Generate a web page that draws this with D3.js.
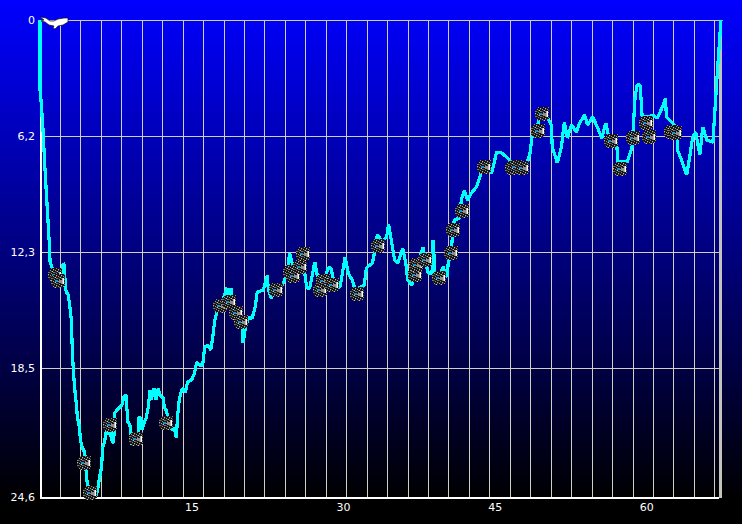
<!DOCTYPE html>
<html><head><meta charset="utf-8">
<script src="https://cdn.jsdelivr.net/npm/d3@7/dist/d3.min.js"></script>
<style>html,body{margin:0;padding:0;background:#000;overflow:hidden}svg{display:block}
text{font-family:"DejaVu Sans",sans-serif;font-size:11px;fill:#fff}</style></head><body>
<script>
const yTicks=[0,6.2,12.3,18.5,24.6];
const xTicks=[15,30,45,60];
const gridIndex=d3.range(1,34);
const km=[0,0,.1,.3,.5,.7,.9,1,1.2,1.5,1.8,2,2.2,2.3,2.4,2.5,2.6,2.8,3,3.1,3.2,3.3,3.4,3.5,3.6,3.7,3.9,4,4.2,4.4,4.5,4.6,4.7,4.9,5.2,5.5,5.7,5.9,6.1,6.2,6.4,6.5,6.7,6.8,6.9,7,7.2,7.3,7.4,7.6,7.9,8.1,8.3,8.5,8.7,8.9,9,9.1,9.4,9.7,9.8,10,10.1,10.3,10.5,10.7,10.9,11,11.3,11.5,11.7,11.9,12.2,12.3,12.5,12.7,13.1,13.3,13.5,13.6,13.8,14.1,14.4,14.6,15,15.3,15.5,15.8,16.1,16.3,16.6,16.9,17.1,17.3,17.5,17.8,18.1,18.5,18.7,18.9,19.1,19.4,19.8,20,20.1,20.3,20.6,21,21.3,21.5,22.1,22.5,22.6,22.9,23.2,23.6,23.9,24.2,24.5,24.7,25,25.3,25.7,25.9,26.2,26.4,26.7,27.2,27.4,27.5,27.9,28.2,28.5,28.8,29.2,29.7,30.2,30.5,30.9,31.2,31.7,32.1,32.3,32.9,33.1,33.4,33.8,34.3,34.5,34.8,35.1,35.4,35.9,36.2,36.4,36.8,37.1,37.4,37.9,38.4,38.8,38.9,39.1,39.5,39.9,40.3,40.4,40.7,40.8,40.9,41,41.5,41.7,42,42.3,42.7,43.2,43.5,43.9,44.3,44.7,45.2,45.7,46.3,46.7,47.3,47.8,48.2,48.3,48.5,48.7,49,49.3,49.5,49.9,50.2,50.6,50.7,51.2,51.6,51.9,52.2,52.6,53.1,53.4,53.9,54.2,54.7,55.2,55.6,56,56.4,57.1,57.2,58.1,58.6,58.9,59.1,59.4,59.6,60.3,60.6,61.1,61.6,61.9,62,62.5,63,63.1,63.5,64,64.3,64.6,64.9,65.3,65.6,66,66.6,66.8,67.1,67.4];
const position=[0,3.74,4.28,5.88,8,9.83,11.67,12.83,13.15,13.37,13.53,13.58,13.26,12.89,13,14.07,14.44,14.6,15.4,15.93,17.54,18.6,19.3,19.77,20.24,20.82,21.29,21.91,22.28,22.47,22.85,23.66,23.99,24.18,24.27,24.6,24.27,23.66,23.18,22.24,22,21.58,21.43,21.67,21.2,21.67,22.05,21.91,20.63,20.49,20.35,20.25,19.87,19.77,21.05,21.2,21.67,22.14,21.76,21.67,20.82,20.87,21.43,21.1,20.87,20.39,19.54,20.01,19.45,20.01,19.45,19.82,19.92,20.39,20.49,20.96,21.43,21.34,21.81,20.87,19.92,19.45,19.64,19.16,19.07,18.74,18.18,18.34,18.34,17.38,17.27,17.54,16.84,15.93,15.56,15.19,14.87,14.22,14.87,14.22,15.03,15.56,15.82,16.04,17.16,16.47,15.83,15.83,15.24,14.44,14.33,13.53,14.33,14.76,14.44,14.33,14.17,13.8,13.26,12.35,12.99,13.26,12.99,12.46,13.42,14.22,14.22,12.83,13.42,13.8,14.07,13.8,13.15,13.15,14.22,14.17,12.57,13.42,13.8,14.33,14.17,14.07,13.15,12.89,12.35,11.37,11.74,11.53,10.84,11.79,12.73,12.89,12.09,12.89,13.8,14.07,13.53,13,12.04,13.42,13.42,11.67,13.42,13.69,13.1,13.64,12.89,12.35,11.57,11.15,10.62,10.52,9.57,9.04,9.57,9.2,8.88,8.41,7.83,7.73,8.15,7.04,7.1,7.36,7.62,7.62,7.88,7.83,7.46,7.09,6.25,5.77,5.51,4.7,4.92,5.18,5.61,6.78,7.62,6.78,5.45,6.31,5.61,5.99,5.51,5.08,5.61,5.18,5.77,6.31,5.51,6.52,6.78,7.57,7.57,6.78,4.12,3.47,3.47,5.18,5.18,5.08,5.24,4.65,4.17,5.18,5.45,5.72,6.94,7.46,8.25,7.31,6.25,5.99,7.2,5.72,6.41,6.52,4.81,2.3,0];
const markerKm=[1.5,1.8,4.4,4.9,6.9,9.5,12.5,17.8,18.7,19.4,19.9,23.4,24.7,25,25.7,26,27.7,28,28.9,31.4,33.5,37.1,37.2,38.1,39.5,40.7,40.9,41.8,43.9,46.7,47,47.7,49.3,49.7,56.5,57.4,58.7,60,60.3,62.5,62.8];
const markerPos=[13.53,13.85,23,24.41,21.2,21.86,21.1,15.19,14.97,15.56,16.04,14.33,13.37,13.58,13.1,12.41,14.33,13.85,14.07,14.54,11.98,13.53,13,12.73,13.69,12.35,11.15,10.15,7.83,7.88,7.83,7.88,5.93,5.02,6.46,7.94,6.31,5.51,6.25,5.99,6.04];

const W=742,H=524,L=40,R=721,T=20,B=497;
const x=d3.scaleLinear().domain([0,67.4]).range([L,R]);
const y=d3.scaleLinear().domain(yTicks).range([T,136,252,368,B]);
const grid=d3.scaleLinear().domain([0,33]).range([39.5,714.3]);
const svg=d3.select("body").append("svg").attr("width",W).attr("height",H);
const defs=svg.append("defs");
const g0=defs.append("linearGradient").attr("id","bg").attr("gradientUnits","userSpaceOnUse").attr("x1",0).attr("y1",0).attr("x2",0).attr("y2",500);
g0.append("stop").attr("offset",0).attr("stop-color","#0000ff");
g0.append("stop").attr("offset",1).attr("stop-color","#000000");
svg.append("rect").attr("width",W).attr("height",H).attr("fill","url(#bg)");
const gridC="#cfcfc4";
const gg=svg.append("g").attr("shape-rendering","crispEdges");
gg.selectAll(".v").data(gridIndex).join("line").attr("x1",d=>Math.round(grid(d))+.5).attr("x2",d=>Math.round(grid(d))+.5).attr("y1",T).attr("y2",B).attr("stroke",gridC);
gg.selectAll(".h").data(yTicks.slice(0,4)).join("line").attr("x1",L).attr("x2",R).attr("y1",d=>y(d)+.5).attr("y2",d=>y(d)+.5).attr("stroke",gridC);
gg.append("line").attr("x1",R-.5).attr("x2",R-.5).attr("y1",T).attr("y2",B+1).attr("stroke","#c4c4bc").attr("stroke-width",3);
const ax=svg.append("g").attr("transform",`translate(${L},0)`).call(d3.axisLeft(y).tickValues(yTicks).tickSize(0).tickPadding(5).tickFormat(d=>String(d).replace(".",",")));
ax.select(".domain").remove();
const bx=svg.append("g").attr("transform",`translate(0,${B})`).call(d3.axisBottom(x).tickValues(xTicks).tickSize(0).tickPadding(6));
bx.select(".domain").remove();
svg.selectAll(".tick text").attr("fill","#fff").style("font-size","11px");
gg.append("line").attr("x1",40.5).attr("x2",40.5).attr("y1",T).attr("y2",B+2).attr("stroke","#fff").attr("stroke-width",2);
gg.append("line").attr("x1",40).attr("x2",R-2).attr("y1",B+.5).attr("y2",B+.5).attr("stroke","#fff").attr("stroke-width",2);
const pts=km.map((k,i)=>[k,position[i]]);
svg.append("path").datum(pts).attr("fill","none").attr("stroke","#00ffff").attr("stroke-width",3.2).attr("stroke-linejoin","bevel").attr("shape-rendering","crispEdges")
 .attr("d",d3.line().x(d=>x(d[0])).y(d=>y(d[1])));
const pat=defs.append("pattern").attr("id","dith").attr("width",5).attr("height",5).attr("patternUnits","userSpaceOnUse");
pat.append("rect").attr("width",5).attr("height",5).attr("fill","#141414");
[[0,0,"#9a9a9a"],[2,1,"#c4c4c4"],[4,2,"#6e6e6e"],[1,3,"#8a8a8a"],[3,4,"#b0b0b0"],[3,0,"#4a4a4a"],[1,1,"#555"],[0,2,"#3c3c3c"],[3,2,"#777"],[4,4,"#2a2a2a"]].forEach(([a,b,c])=>pat.append("rect").attr("x",a).attr("y",b).attr("width",1).attr("height",1).attr("fill",c));
const mk=svg.append("g").selectAll("g").data(markerKm.map((k,i)=>[k,markerPos[i]])).join("g")
 .attr("transform",d=>`translate(${Math.round(x(d[0]))},${Math.round(y(d[1]))})`).attr("shape-rendering","crispEdges");
const shape="M-4,-7H6L7,-6V5L3,7H-3L-7,4V-3Z";
mk.append("path").attr("d",shape).attr("fill","url(#dith)");
mk.append("rect").attr("x",1).attr("y",-1).attr("width",3).attr("height",3).attr("fill","#8e8e8e");
mk.append("rect").attr("x",4).attr("y",-3).attr("width",1).attr("height",6).attr("fill","#b8b8b8");
mk.append("rect").attr("x",5).attr("y",-3).attr("width",1).attr("height",6).attr("fill","#ffffff");
mk.append("rect").attr("x",-3).attr("y",-1).attr("width",3).attr("height",2).attr("fill","#1f8fc8");
svg.append("path").attr("fill","#fff").attr("stroke","#111").attr("stroke-width",.7)
 .attr("d","M40,17L46,18L50,21L54,21L58,19L64,18L68,18L68,22L63,25L58,26L55,29L53,28L54,26L49,25L45,22L41,21L44,20Z");
</script></body></html>
